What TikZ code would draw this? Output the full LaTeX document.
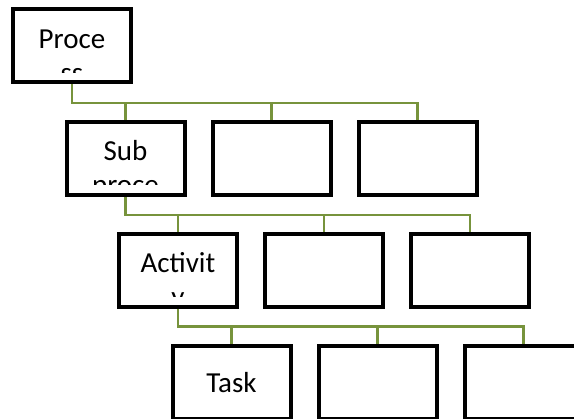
\documentclass[tikz,border=0pt]{standalone}
\usepackage{fontspec}
\setmainfont{Carlito}
\usetikzlibrary{backgrounds}
\definecolor{olivelink}{HTML}{77933C}
\tikzset{
  orgbox/.style={draw=black, fill=white, line width=4pt, minimum width=118pt,
    minimum height=73pt, inner sep=0pt, anchor=center},
  orgtext/.style={font=\fontsize{29}{34}\selectfont, inner sep=0pt, anchor=base},
  link/.style={draw=olivelink, line width=2.7pt}
}
\begin{document}
\begin{tikzpicture}[x=1pt, y=-1pt]
\useasboundingbox (0,0) rectangle (574,419);
\clip (0,0) rectangle (574,419);

% level 1
\node[orgbox] (p) at (72,45.5) {};
% level 2
\node[orgbox] (s1) at (125.5,158.5) {};
\node[orgbox] (s2) at (271.5,158.5) {};
\node[orgbox] (s3) at (417.5,158.5) {};
% level 3
\node[orgbox] (a1) at (178,270.5) {};
\node[orgbox] (a2) at (324,270.5) {};
\node[orgbox] (a3) at (470,270.5) {};
% level 4
\node[orgbox] (t1) at (231.5,382.5) {};
\node[orgbox] (t2) at (377.5,382.5) {};
\node[orgbox] (t3) at (523.5,382.5) {};

% box labels, cut off at the lower text margin
\begin{scope}
  \clip (13,10) rectangle (131,72.5);
  \node[orgtext] (lp1) at (72,48.5) {Proce};
  \node[orgtext] (lp2) at (72,83) {ss};
\end{scope}
\begin{scope}
  \clip (66.5,122) rectangle (184.5,184.5);
  \node[orgtext] (ls1) at (125.5,160.5) {Sub};
  \node[orgtext] (ls2) at (125.5,195) {proce};
\end{scope}
\begin{scope}
  \clip (119,234) rectangle (237,296.5);
  \node[orgtext] (la1) at (178,272.5) {Activit};
  \node[orgtext] (la2) at (178,307) {y};
\end{scope}
\node[orgtext] (lt1) at (231.5,393) {Task};

% connectors behind the boxes
\begin{scope}[on background layer]
  \coordinate (h1) at (72,103);
  \draw[link] (p.south) -- (h1) -| (s3.north);
  \draw[link] (s1.north) -- (s1.north |- h1);
  \draw[link] (s2.north) -- (s2.north |- h1);

  \coordinate (h2) at (125.5,215);
  \draw[link] (s1.south) -- (h2) -| (a3.north);
  \draw[link] (a1.north) -- (a1.north |- h2);
  \draw[link] (a2.north) -- (a2.north |- h2);

  \coordinate (h3) at (178,326.5);
  \draw[link] (a1.south) -- (h3) -| (t3.north);
  \draw[link] (t1.north) -- (t1.north |- h3);
  \draw[link] (t2.north) -- (t2.north |- h3);
\end{scope}
\end{tikzpicture}
\end{document}
